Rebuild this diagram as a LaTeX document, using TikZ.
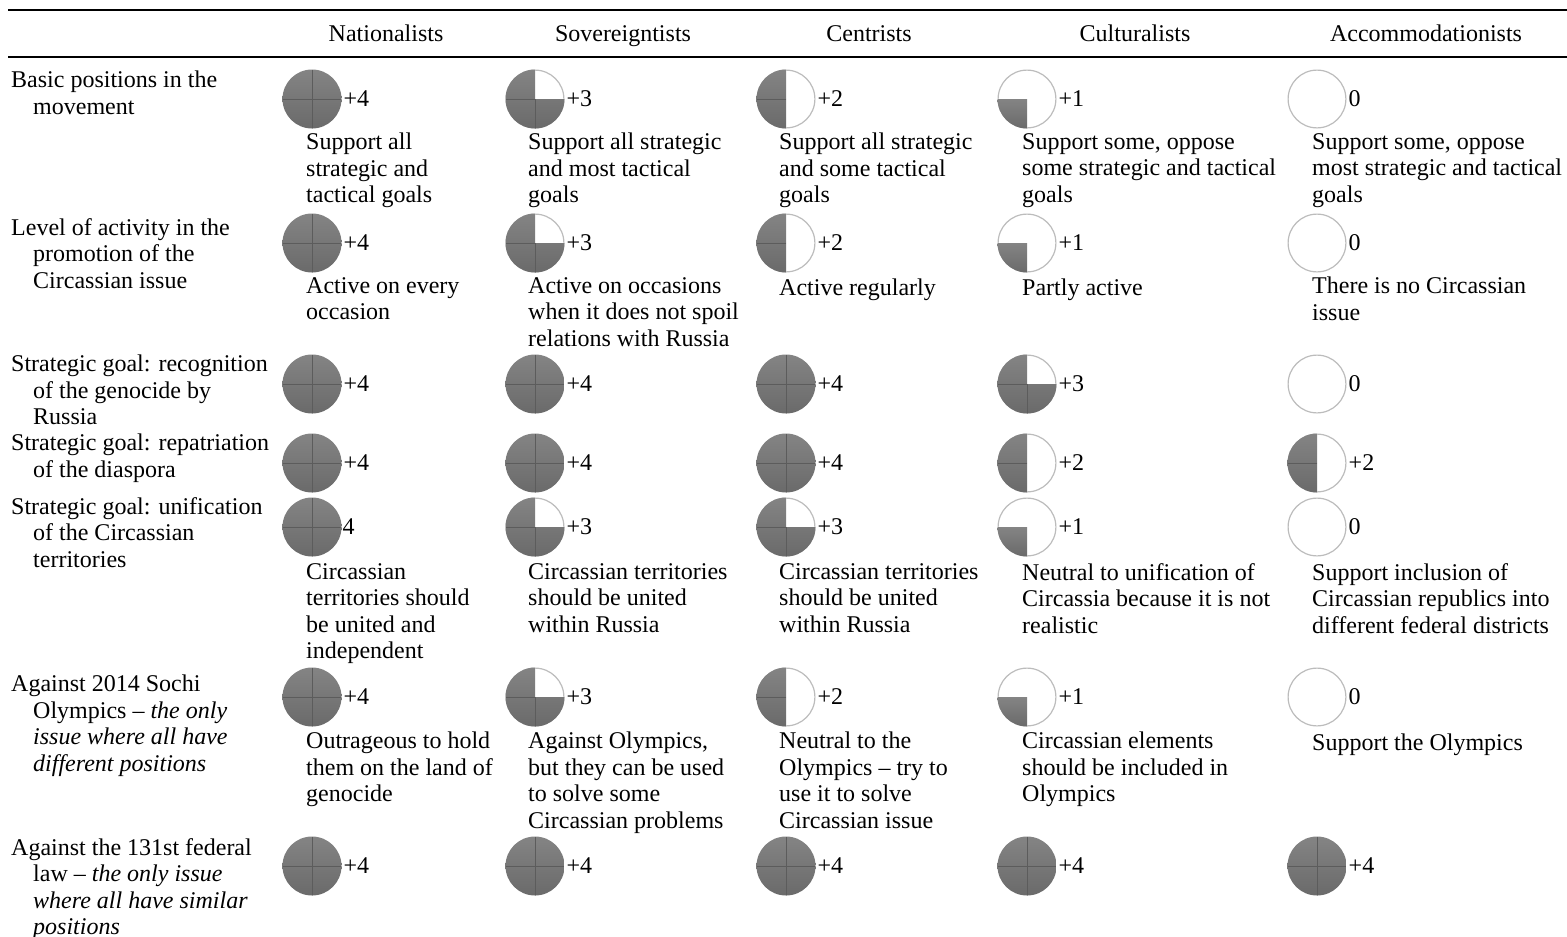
\documentclass[tikz,border=0pt]{standalone}
\usepackage{fontspec}
\setmainfont{Liberation Serif}
\definecolor{pietop}{RGB}{132,132,132}
\definecolor{piebot}{RGB}{106,106,106}
\definecolor{piecross}{RGB}{92,92,92}
\definecolor{ringc}{RGB}{188,188,188}
\newcommand{\fsz}{\fontsize{24}{26.5}\selectfont}
\tikzset{
  pie/.style={circle, minimum size=59pt, inner sep=0pt, outer sep=0pt, fill=white},
  pieshade/.style={top color=pietop, bottom color=piebot},
  crossline/.style={draw=piecross, line width=0.8pt},
  ringline/.style={draw=ringc, line width=2.4pt},
  p4/.style={pie, path picture={
    \shade[pieshade] (path picture bounding box.south west) rectangle (path picture bounding box.north east);
    \draw[crossline] (path picture bounding box.north) -- (path picture bounding box.south)
                     (path picture bounding box.west) -- (path picture bounding box.east);}},
  p3/.style={pie, path picture={
    \draw[ringline] (path picture bounding box.center) circle (29.5pt);
    \shade[pieshade] (path picture bounding box.center) -- (path picture bounding box.north) -- (path picture bounding box.north west) -- (path picture bounding box.south west) -- (path picture bounding box.south east) -- (path picture bounding box.east) -- cycle;
    \draw[crossline] (path picture bounding box.center) -- (path picture bounding box.south)
                     (path picture bounding box.center) -- (path picture bounding box.west);}},
  p2/.style={pie, path picture={
    \draw[ringline] (path picture bounding box.center) circle (29.5pt);
    \shade[pieshade] (path picture bounding box.north) -- (path picture bounding box.north west) -- (path picture bounding box.south west) -- (path picture bounding box.south) -- cycle;
    \draw[crossline] (path picture bounding box.center) -- (path picture bounding box.west);}},
  p1/.style={pie, path picture={
    \draw[ringline] (path picture bounding box.center) circle (29.5pt);
    \shade[pieshade] (path picture bounding box.center) -- (path picture bounding box.west) -- (path picture bounding box.south west) -- (path picture bounding box.south) -- cycle;}},
  p0/.style={pie, path picture={
    \draw[ringline] (path picture bounding box.center) circle (29.5pt);}},
  val/.style={anchor=west, inner sep=0pt, xshift=2pt, font=\fsz},
  txt/.style={anchor=north west, inner sep=0pt, align=left, font=\fsz, execute at begin node={\rule{0pt}{18pt}}},
  hdr/.style={anchor=base, inner sep=0pt, font=\fsz},
  rulel/.style={line width=2pt, draw=black}
}
\begin{document}
\begin{tikzpicture}[x=1pt, y=-1pt]
\useasboundingbox (0,0) rectangle (1567,937);
% rules
\coordinate (t1) at (8,10); \coordinate (t2) at (1567,10);
\coordinate (h1) at (8,57); \coordinate (h2) at (1567,57);
\draw[rulel] (t1) -- (t2);
\draw[rulel] (h1) -- (h2);
% headers
\node[hdr] (hN) at (386,41) {Nationalists};
\node[hdr] (hS) at (623,41) {Sovereigntists};
\node[hdr] (hC) at (869,41) {Centrists};
\node[hdr] (hK) at (1135,41) {Culturalists};
\node[hdr] (hA) at (1426,41) {Accommodationists};
% row labels
\node[txt] (L1) at (11,71) {Basic positions in the\\\hspace*{22pt}movement};
\node[txt] (L2) at (11,218) {Level of activity in the\\\hspace*{22pt}promotion of the\\\hspace*{22pt}Circassian issue};
\node[txt] (L3) at (11,355) {Strategic goal: recognition\\\hspace*{22pt}of the genocide by\\\hspace*{22pt}Russia};
\node[txt] (L4) at (11,434) {Strategic goal: repatriation\\\hspace*{22pt}of the diaspora};
\node[txt] (L5) at (11,497) {Strategic goal: unification\\\hspace*{22pt}of the Circassian\\\hspace*{22pt}territories};
\node[txt] (L6) at (11,675) {Against 2014 Sochi\\\hspace*{22pt}Olympics – \textit{the only}\\\hspace*{22pt}\textit{issue where all have}\\\hspace*{22pt}\textit{different positions}};
\node[txt] (L7) at (11,838) {Against the 131st federal\\\hspace*{22pt}law – \textit{the only issue}\\\hspace*{22pt}\textit{where all have similar}\\\hspace*{22pt}\textit{positions}};
% row 1
\node[p4] (a1) at (312,99) {}; \node[val] (va1) at (a1.east) {+4};
\node[p3] (a2) at (535,99) {}; \node[val] (va2) at (a2.east) {+3};
\node[p2] (a3) at (786,99) {}; \node[val] (va3) at (a3.east) {+2};
\node[p1] (a4) at (1027,99) {}; \node[val] (va4) at (a4.east) {+1};
\node[p0] (a5) at (1317,99) {}; \node[val] (va5) at (a5.east) {0};
\node[txt] (da1) at (306,133) {Support all\\strategic and\\tactical goals};
\node[txt] (da2) at (528,133) {Support all strategic\\and most tactical\\goals};
\node[txt] (da3) at (779,133) {Support all strategic\\and some tactical\\goals};
\node[txt] (da4) at (1022,133) {Support some, oppose\\some strategic and tactical\\goals};
\node[txt] (da5) at (1312,133) {Support some, oppose\\most strategic and tactical\\goals};
% row 2
\node[p4] (b1) at (312,243) {}; \node[val] (vb1) at (b1.east) {+4};
\node[p3] (b2) at (535,243) {}; \node[val] (vb2) at (b2.east) {+3};
\node[p2] (b3) at (786,243) {}; \node[val] (vb3) at (b3.east) {+2};
\node[p1] (b4) at (1027,243) {}; \node[val] (vb4) at (b4.east) {+1};
\node[p0] (b5) at (1317,243) {}; \node[val] (vb5) at (b5.east) {0};
\node[txt] (db1) at (306,277) {Active on every\\occasion};
\node[txt] (db2) at (528,277) {Active on occasions\\when it does not spoil\\relations with Russia};
\node[txt] (db3) at (779,277) {Active regularly};
\node[txt] (db4) at (1022,277) {Partly active};
\node[txt] (db5) at (1312,277) {There is no Circassian\\issue};
% row 3
\node[p4] (c1) at (312,384) {}; \node[val] (vc1) at (c1.east) {+4};
\node[p4] (c2) at (535,384) {}; \node[val] (vc2) at (c2.east) {+4};
\node[p4] (c3) at (786,384) {}; \node[val] (vc3) at (c3.east) {+4};
\node[p3] (c4) at (1027,384) {}; \node[val] (vc4) at (c4.east) {+3};
\node[p0] (c5) at (1317,384) {}; \node[val] (vc5) at (c5.east) {0};
% row 4
\node[p4] (d1) at (312,463) {}; \node[val] (vd1) at (d1.east) {+4};
\node[p4] (d2) at (535,463) {}; \node[val] (vd2) at (d2.east) {+4};
\node[p4] (d3) at (786,463) {}; \node[val] (vd3) at (d3.east) {+4};
\node[p2] (d4) at (1027,463) {}; \node[val] (vd4) at (d4.east) {+2};
\node[p2] (d5) at (1317,463) {}; \node[val] (vd5) at (d5.east) {+2};
% row 5
\node[p4] (e1) at (312,527) {}; \node[val, xshift=-1pt] (ve1) at (e1.east) {4};
\node[p3] (e2) at (535,527) {}; \node[val] (ve2) at (e2.east) {+3};
\node[p3] (e3) at (786,527) {}; \node[val] (ve3) at (e3.east) {+3};
\node[p1] (e4) at (1027,527) {}; \node[val] (ve4) at (e4.east) {+1};
\node[p0] (e5) at (1317,527) {}; \node[val] (ve5) at (e5.east) {0};
\node[txt] (de1) at (306,563) {Circassian\\territories should\\be united and\\independent};
\node[txt] (de2) at (528,563) {Circassian territories\\should be united\\within Russia};
\node[txt] (de3) at (779,563) {Circassian territories\\should be united\\within Russia};
\node[txt] (de4) at (1022,563) {Neutral to unification of\\Circassia because it is not\\realistic};
\node[txt] (de5) at (1312,563) {Support inclusion of\\Circassian republics into\\different federal districts};
% row 6
\node[p4] (f1) at (312,697) {}; \node[val] (vf1) at (f1.east) {+4};
\node[p3] (f2) at (535,697) {}; \node[val] (vf2) at (f2.east) {+3};
\node[p2] (f3) at (786,697) {}; \node[val] (vf3) at (f3.east) {+2};
\node[p1] (f4) at (1027,697) {}; \node[val] (vf4) at (f4.east) {+1};
\node[p0] (f5) at (1317,697) {}; \node[val] (vf5) at (f5.east) {0};
\node[txt] (df1) at (306,732) {Outrageous to hold\\them on the land of\\genocide};
\node[txt] (df2) at (528,732) {Against Olympics,\\but they can be used\\to solve some\\Circassian problems};
\node[txt] (df3) at (779,732) {Neutral to the\\Olympics – try to\\use it to solve\\Circassian issue};
\node[txt] (df4) at (1022,732) {Circassian elements\\should be included in\\Olympics};
\node[txt] (df5) at (1312,732) {Support the Olympics};
% row 7
\node[p4] (g1) at (312,866) {}; \node[val] (vg1) at (g1.east) {+4};
\node[p4] (g2) at (535,866) {}; \node[val] (vg2) at (g2.east) {+4};
\node[p4] (g3) at (786,866) {}; \node[val] (vg3) at (g3.east) {+4};
\node[p4] (g4) at (1027,866) {}; \node[val] (vg4) at (g4.east) {+4};
\node[p4] (g5) at (1317,866) {}; \node[val] (vg5) at (g5.east) {+4};
\end{tikzpicture}
\end{document}
